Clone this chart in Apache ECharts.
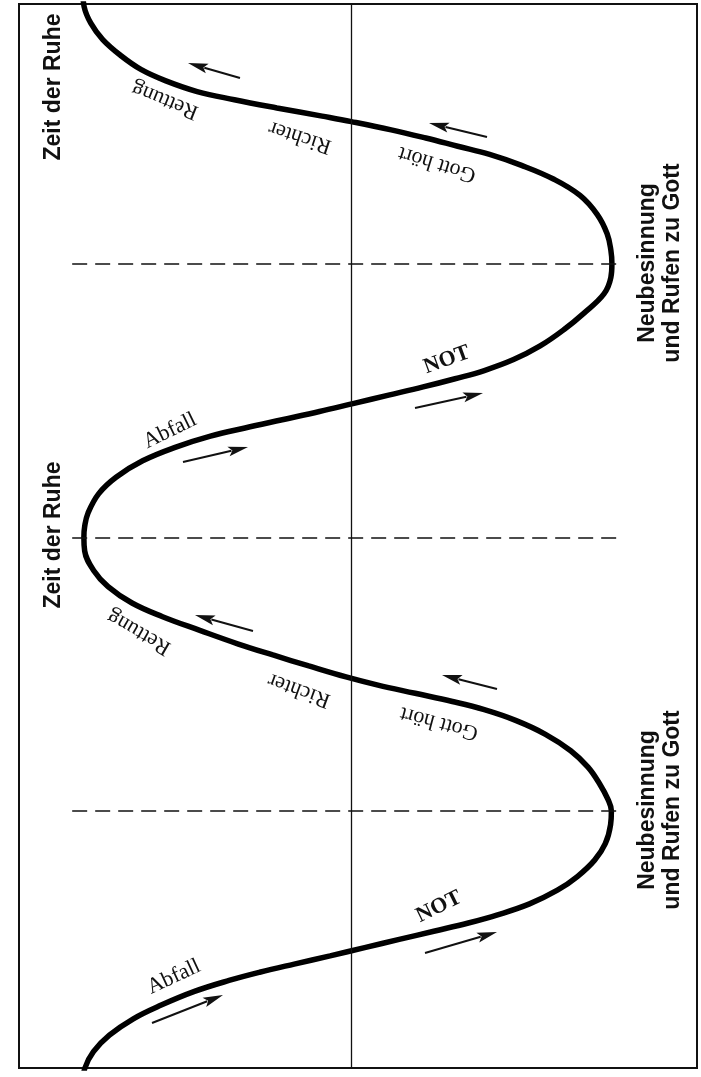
<!DOCTYPE html>
<html><head><meta charset="utf-8">
<script src="https://cdn.jsdelivr.net/npm/echarts@6/dist/echarts.min.js"></script>
<style>html,body{margin:0;padding:0;background:#fff;}#c{width:701px;height:1077px;}</style>
</head><body><div id="c"></div>
<script>
// time runs downward (vertical axis); level runs horizontally (left = Ruhe, right = Not / Neubesinnung)
const phaseTime = [0,3,6,9,12,14.5,16.5,18.5,20,21.5,23,24,25.5,27,28.5,30,32,34.5,37.5,41,44.5,47.5,50,
  52.5,55.5,59,62,65,67.5,69.5,71,72.5,74,75.5,77,78.5,80,81.5,83.5,86,89,92,95.5,98,100,
  102.5,106,109,112,114.5,117,119.5,121.5,123.5,125.5,127,128.5,130,131.5,133.5,136,139,142,145,148,150,
  152.5,156,159,162,164.5,167,169,170.5,172,173.5,175,176.5,178,179.5,181,183,185.5,188,191,194,197,200];
const phaseLevel = [-101,-100.5,-98,-93.5,-86.5,-79,-70,-58,-44,-28,-11,0,15,28,40,52,64,76,86,92.5,96.2,97.6,98,
  97.6,95,87.5,80,71,61,50,39,27,14,1,-12,-26,-40,-53,-66,-78.5,-88.5,-95,-99,-100.3,-100.6,
  -100.3,-97,-91.5,-82.5,-71,-57,-42.5,-29.5,-16,-2,10,24,38,50,62,73,82.5,89,93.3,96.6,97.8,
  97.5,95.5,91.5,85,77.5,67,55,44,31,18,5,-8,-21.5,-34.5,-46,-59,-71.5,-82,-91,-97,-100.2,-101];
const turnTimes = [50, 100, 150];
const leftLabel = 'Zeit der Ruhe';
const rightLabel = 'Neubesinnung\nund Rufen zu Gott';

const SANS = 'bold 23px "Liberation Sans", Arial, sans-serif';
const SERIF = '22px "Liberation Serif", "Times New Roman", serif';
const SERIFB = 'bold 22px "Liberation Serif", "Times New Roman", serif';
const d2r = Math.PI / 180;

function txt(s, x, y, deg, font) {
  return { type: 'text', x: x, y: y, rotation: deg * d2r, z: 10,
    style: { text: s, font: font, fill: '#111', align: 'center', verticalAlign: 'middle',
      textAlign: 'center', textVerticalAlign: 'middle', lineHeight: 25 } };
}
function arrow(tail, tip) {
  const dx = tip[0] - tail[0], dy = tip[1] - tail[1];
  const len = Math.hypot(dx, dy), ux = dx / len, uy = dy / len;
  const hl = 20, hw = 5;
  const bx = tip[0] - ux * hl, by = tip[1] - uy * hl;
  return [
    { type: 'line', z: 10, shape: { x1: tail[0], y1: tail[1], x2: bx + ux * 3, y2: by + uy * 3 },
      style: { stroke: '#111', lineWidth: 2 } },
    { type: 'polygon', z: 10, shape: { points: [[tip[0], tip[1]], [bx - uy * hw, by + ux * hw], [bx + ux * 4, by + uy * 4], [bx + uy * hw, by - ux * hw]] },
      style: { fill: '#111' } }
  ];
}

const graphics = [
  txt(leftLabel, 54, 87, 90, SANS),
  txt(leftLabel, 54, 535, 90, SANS),
  txt(rightLabel, 660, 263, 90, SANS),
  txt(rightLabel, 660, 810, 90, SANS),
  txt('Rettung', 165, 100, 158, SERIF),
  txt('Richter', 300, 137, 162, SERIF),
  txt('Gott hört', 437, 164, 163, SERIF),
  txt('Abfall', 170, 431, 26, SERIF),
  txt('NOT', 447, 360, 20, SERIFB),
  txt('Rettung', 139, 632, 150, SERIF),
  txt('Richter', 299, 690, 160, SERIF),
  txt('Gott hört', 439, 723, 165, SERIF),
  txt('NOT', 439, 907, 26, SERIFB),
  txt('Abfall', 174, 977, 25, SERIF)
].concat(
  arrow([240, 78], [188, 63]),
  arrow([487, 137], [429, 123]),
  arrow([183, 462], [248, 447]),
  arrow([415, 408], [483, 393]),
  arrow([253, 631], [195, 615]),
  arrow([497, 689], [442, 675]),
  arrow([152, 1023], [223, 995]),
  arrow([425, 953], [497, 932])
);

const dashStyle = { type: [15, 8], width: 1.6, color: '#111' };
const markData = [{ xAxis: 0, lineStyle: { type: 'solid', width: 1.3, color: '#111' } }]
  .concat(turnTimes.map(t => [{ coord: [-105, t], lineStyle: dashStyle }, { coord: [102.5, t] }]));

const chart = echarts.init(document.getElementById('c'), null, { renderer: 'canvas' });
chart.setOption({
  animation: false,
  backgroundColor: '#fff',
  grid: { left: 19, right: 4, top: 4, bottom: 9, show: true, borderColor: '#111', borderWidth: 2, backgroundColor: '#fff' },
  xAxis: { type: 'value', min: -125, max: 130, axisLine: { show: false }, axisTick: { show: false }, axisLabel: { show: false }, splitLine: { show: false } },
  yAxis: { type: 'value', inverse: true, min: 2.5, max: 197, axisLine: { show: false }, axisTick: { show: false }, axisLabel: { show: false }, splitLine: { show: false } },
  series: [{
    type: 'line',
    data: phaseTime.map((t, i) => [phaseLevel[i], t]),
    smooth: 0.4,
    symbol: 'none',
    clip: true,
    lineStyle: { color: '#000', width: 5.5 },
    markLine: { silent: true, symbol: ['none', 'none'], label: { show: false }, data: markData }
  }],
  graphic: graphics
});
</script></body></html>
